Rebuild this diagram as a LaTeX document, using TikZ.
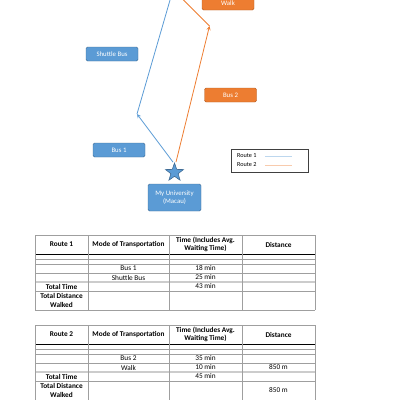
\documentclass[tikz,border=0pt]{standalone}
\usepackage{fontspec}
\setmainfont{Carlito}
\usetikzlibrary{shapes.geometric,arrows,positioning,calc}
\definecolor{offblue}{HTML}{5B9BD5}
\definecolor{offorange}{HTML}{ED7D31}
\definecolor{lightblue}{HTML}{BDD7EE}
\definecolor{lightorange}{HTML}{F8CBAD}

\begin{document}
\begin{tikzpicture}[
    x=1pt, y=-1pt,
    box/.style={rectangle, draw=offblue!70!black, rounded corners=1.5pt, fill=offblue, text=white, minimum width=52pt, minimum height=14pt, inner sep=1pt, align=center, font=\fontsize{6.8}{8.5}\selectfont},
    obox/.style={box, draw=offorange!75!black, fill=offorange},
    route/.style={line width=0.8pt},
    arrow/.style={->, >=stealth, route},
    cell/.style={inner sep=0pt, align=center, font=\fontsize{7.3}{8.3}\selectfont},
    hcell/.style={cell, font=\fontsize{7.3}{8.3}\selectfont\bfseries},
    grid/.style={draw=gray!75, line width=0.5pt}
]
    \useasboundingbox (0,0) rectangle (400,400);

    % map
    \node[obox] (walk) at (228,3) {Walk};
    \node[box] (shuttle) at (112,54) {Shuttle Bus};
    \node[obox] (bus2) at (230.5,95) {Bus 2};
    \node[box] (bus1) at (119,150) {Bus 1};
    \node[star, star points=5, star point ratio=2.5, minimum size=19pt, inner sep=0pt, fill=offblue, draw=offblue!70!black, line width=0.6pt] (star) at (174.5,172.5) {};
    \node[box, minimum width=53pt, minimum height=27pt] (uni) at (174.5,197.5) {My University\\(Macau)};

    \coordinate (b-turn) at (137,114);
    \coordinate (b-top) at (171.2,-4);
    \coordinate (o-turn) at (209.5,26);
    \coordinate (o-top) at (179.5,-4);

    \draw[arrow, offblue] ([xshift=-1.5pt]star.north) -- (b-turn);
    \draw[route, offblue] (b-turn) -- (b-top);
    \draw[arrow, offorange] ([xshift=1.5pt]star.north) -- (o-turn);
    \draw[route, offorange] (o-turn) -- (o-top);

    % legend
    \node[draw=black!75, line width=0.7pt, minimum width=77pt, minimum height=23pt, inner sep=0pt] (legend) at (269.5,160.5) {};
    \node[anchor=west, inner sep=0pt, font=\fontsize{6.2}{7}\selectfont] (leg1) at (237,156) {Route 1};
    \node[anchor=west, inner sep=0pt, font=\fontsize{6.2}{7}\selectfont] (leg2) at (237,165) {Route 2};
    \draw[lightblue, line width=0.5pt] ([xshift=8pt]leg1.east) -- ++(27,0);
    \draw[lightorange, line width=0.5pt] ([xshift=8pt]leg2.east) -- ++(27,0);

    % table route 1
    \foreach \y in {235,259,264,273,291,310}
        \draw[grid] (35,\y) -- (315,\y);
    \draw[line width=1pt] (35,254) -- (315,254);
    \draw[gray!40, line width=1.3pt] (35,282) -- (315,282);
    \foreach \x in {35,88,169,242,315}
        \draw[grid] (\x,235) -- (\x,310);

    \node[hcell] (t1-route) at (61.5,244.5) {Route 1};
    \node[hcell] (t1-mode) at (128.5,244.5) {Mode of Transportation};
    \node[hcell] (t1-time) at (205.5,244.5) {Time (Includes Avg.\\Waiting Time)};
    \node[hcell] (t1-dist) at (278.5,244.5) {Distance};
    \node[cell] (t1-bus1) at (128.5,268.5) {Bus 1};
    \node[cell] (t1-bus1t) at (205.5,268.5) {18 min};
    \node[cell] (t1-shut) at (128.5,277.5) {Shuttle Bus};
    \node[cell] (t1-shutt) at (205.5,277.5) {25 min};
    \node[hcell] (t1-total) at (61.5,286.5) {Total Time};
    \node[cell] (t1-totalt) at (205.5,286.5) {43 min};
    \node[hcell] (t1-walked) at (61.5,300.5) {Total Distance\\Walked};

    % table route 2
    \foreach \y in {325,349,354,363,381,401}
        \draw[grid] (35,\y) -- (315,\y);
    \draw[line width=1pt] (35,344) -- (315,344);
    \draw[gray!40, line width=1.3pt] (35,372) -- (315,372);
    \foreach \x in {35,88,169,242,315}
        \draw[grid] (\x,325) -- (\x,401);

    \node[hcell] (t2-route) at (61.5,334.5) {Route 2};
    \node[hcell] (t2-mode) at (128.5,334.5) {Mode of Transportation};
    \node[hcell] (t2-time) at (205.5,334.5) {Time (Includes Avg.\\Waiting Time)};
    \node[hcell] (t2-dist) at (278.5,334.5) {Distance};
    \node[cell] (t2-bus2) at (128.5,358.5) {Bus 2};
    \node[cell] (t2-bus2t) at (205.5,358.5) {35 min};
    \node[cell] (t2-walk) at (128.5,367.5) {Walk};
    \node[cell] (t2-walkt) at (205.5,367.5) {10 min};
    \node[cell] (t2-walkd) at (278.5,367.5) {850 m};
    \node[hcell] (t2-total) at (61.5,376.5) {Total Time};
    \node[cell] (t2-totalt) at (205.5,376.5) {45 min};
    \node[hcell] (t2-walked) at (61.5,390.5) {Total Distance\\Walked};
    \node[cell] (t2-walkedd) at (278.5,390.5) {850 m};
\end{tikzpicture}
\end{document}
